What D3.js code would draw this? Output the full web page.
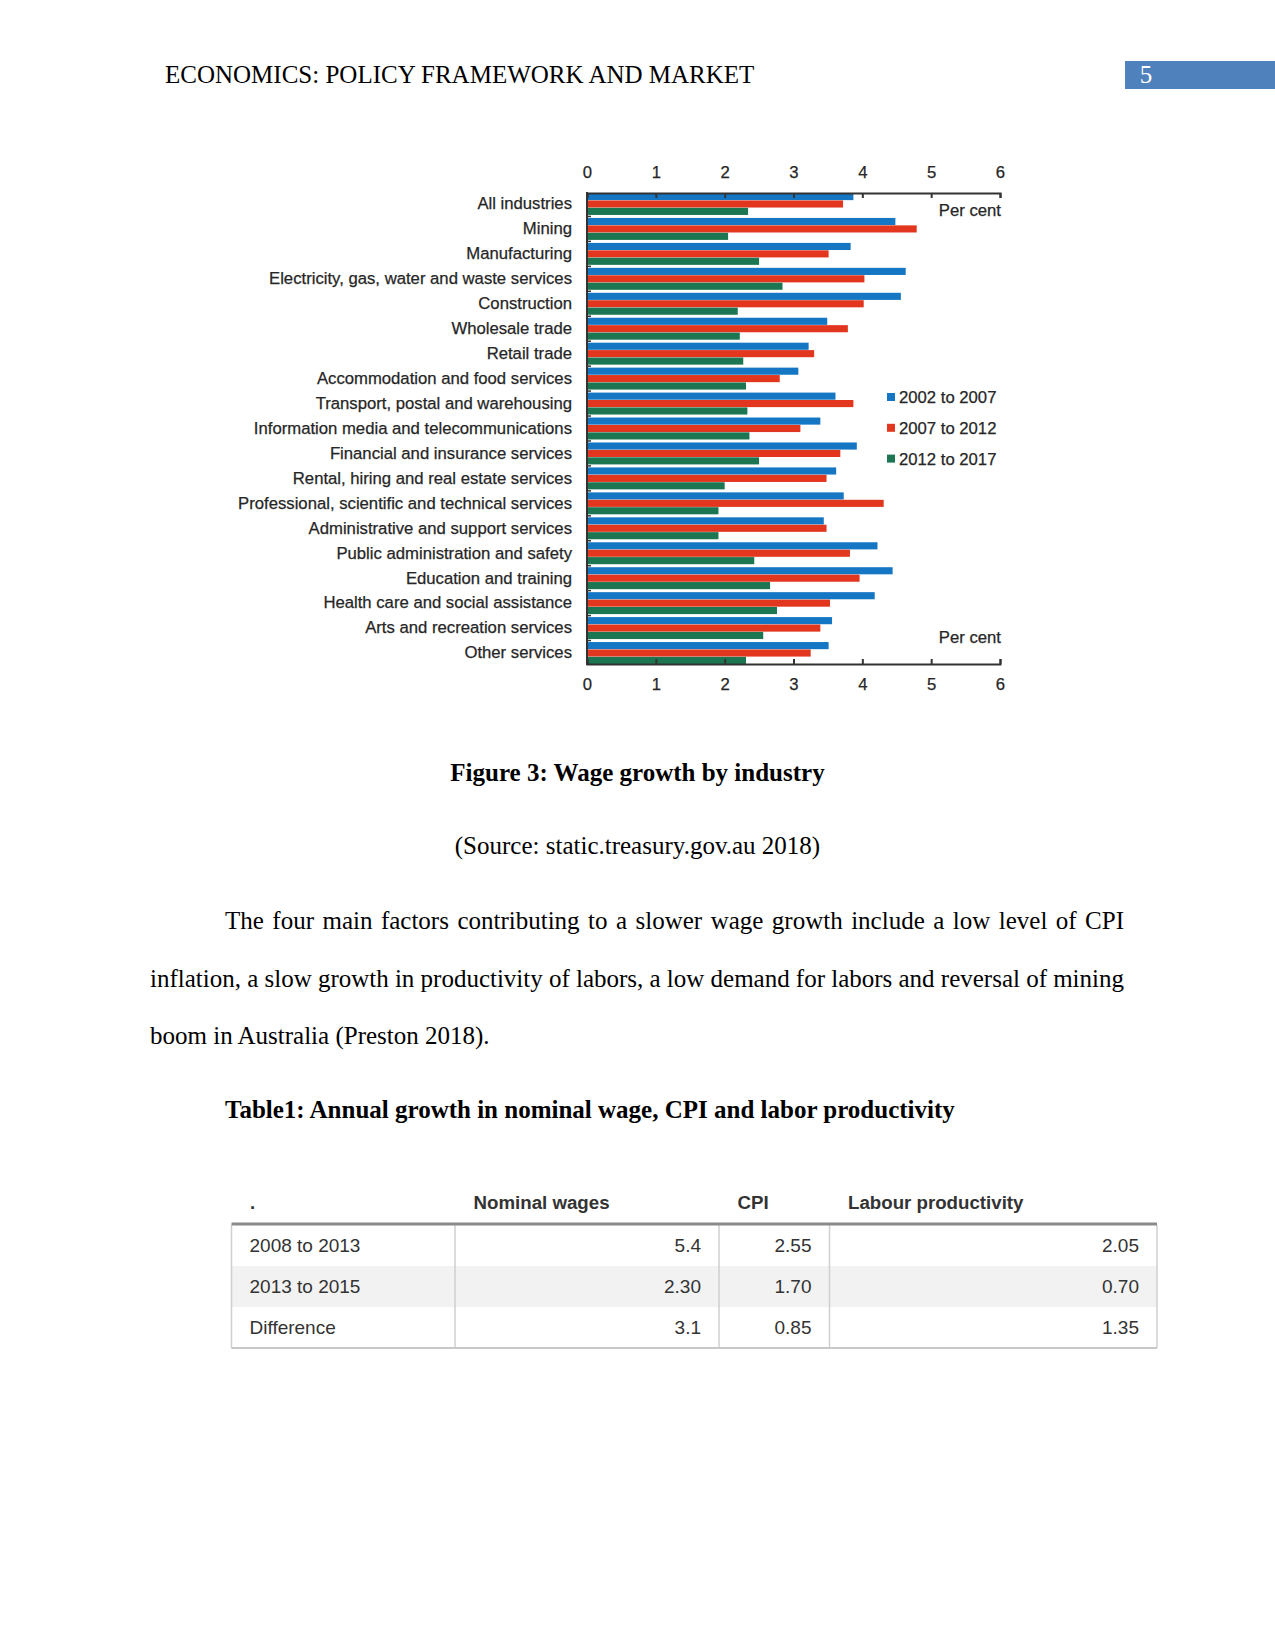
<!DOCTYPE html>
<html><head><meta charset="utf-8">
<script src="https://cdn.jsdelivr.net/npm/d3@7"></script>
<style>
body{margin:0;background:#fff;}
svg{display:block;}
</style></head><body>
<svg id="page" width="1275" height="1651"></svg>
<script>
// ---------- DATA ----------
const categories = [
  "All industries","Mining","Manufacturing","Electricity, gas, water and waste services",
  "Construction","Wholesale trade","Retail trade","Accommodation and food services",
  "Transport, postal and warehousing","Information media and telecommunications",
  "Financial and insurance services","Rental, hiring and real estate services",
  "Professional, scientific and technical services","Administrative and support services",
  "Public administration and safety","Education and training",
  "Health care and social assistance","Arts and recreation services","Other services"
];
const seriesNames = ["2002 to 2007","2007 to 2012","2012 to 2017"];
const growth2002to2007 = [3.87,4.48,3.83,4.63,4.56,3.49,3.22,3.07,3.61,3.39,3.92,3.62,3.73,3.44,4.22,4.44,4.18,3.56,3.51];
const growth2007to2012 = [3.72,4.79,3.51,4.03,4.02,3.79,3.30,2.80,3.87,3.10,3.68,3.48,4.31,3.48,3.82,3.96,3.53,3.39,3.25];
const growth2012to2017 = [2.34,2.05,2.50,2.84,2.19,2.22,2.27,2.31,2.33,2.36,2.50,2.00,1.91,1.91,2.43,2.66,2.76,2.56,2.31];
const xTickValues = [0,1,2,3,4,5,6];
const unitLabel = "Per cent";

const tableHeader = [".","Nominal wages","CPI","Labour productivity"];
const tableRowLabels = ["2008 to 2013","2013 to 2015","Difference"];
const nominalWages = ["5.4","2.30","3.1"];
const cpiValues = ["2.55","1.70","0.85"];
const labourProductivity = ["2.05","0.70","1.35"];

const headerText = "ECONOMICS: POLICY FRAMEWORK AND MARKET";
const pageNumber = "5";
const figureCaption = "Figure 3: Wage growth by industry";
const sourceText = "(Source: static.treasury.gov.au 2018)";
const paragraphLines = [
  "The four main factors contributing to a slower wage growth include a low level of CPI",
  "inflation, a slow growth in productivity of labors, a low demand for labors and reversal of mining",
  "boom in Australia (Preston 2018)."
];
const tableTitle = "Table1: Annual growth in nominal wage, CPI and labor productivity";

// ---------- STYLE ----------
const SERIF = "'Liberation Serif','Times New Roman',serif";
const SANS = "'Liberation Sans',Arial,sans-serif";
const colors = ["#1577c4","#e2361f","#1c7651"];
const ink = "#262626";
const CFS = 16.7; // chart font size

const svg = d3.select("#page");
function chartText(sel){
  return sel.attr("font-family",SANS).attr("font-size",CFS).attr("fill",ink)
    .attr("stroke",ink).attr("stroke-width",0.25);
}

// ---------- PAGE HEADER ----------
svg.append("text").attr("x",165).attr("y",83)
  .attr("font-family",SERIF).attr("font-size",25).attr("fill","#000").text(headerText);
svg.append("rect").attr("x",1125).attr("y",61).attr("width",150).attr("height",28).attr("fill","#4f81bd");
svg.append("text").attr("x",1146).attr("y",83).attr("text-anchor","middle")
  .attr("font-family",SERIF).attr("font-size",25).attr("fill","#fff").text(pageNumber);

// ---------- CHART ----------
const x = d3.scaleLinear().domain([0,6]).range([587,1000]);
const y = d3.scaleBand().domain(categories).range([193,664]).paddingInner(0.12).paddingOuter(0);
const ySub = d3.scaleBand().domain(seriesNames).range([0,y.bandwidth()]).paddingInner(0.04);
const seriesValues = [growth2002to2007,growth2007to2012,growth2012to2017];

const chart = svg.append("g");
const groups = chart.selectAll("g.grp").data(categories).join("g")
  .attr("class","grp").attr("transform",d=>`translate(0,${y(d)})`);
groups.selectAll("rect").data((d,i)=>seriesNames.map((s,j)=>({s,j,v:seriesValues[j][i]}))).join("rect")
  .attr("x",x(0)).attr("y",d=>ySub(d.s)).attr("height",ySub.bandwidth())
  .attr("width",d=>x(d.v)-x(0)).attr("fill",d=>colors[d.j]);

// top axis
const topAxis = chart.append("g").attr("transform","translate(0,193)")
  .call(d3.axisTop(x).tickValues(xTickValues).tickSizeInner(-5).tickSizeOuter(-5).tickPadding(15.5).tickFormat(d3.format("d")));
// bottom axis
const botAxis = chart.append("g").attr("transform","translate(0,664)")
  .call(d3.axisBottom(x).tickValues(xTickValues).tickSizeInner(-5).tickSizeOuter(-5).tickPadding(14).tickFormat(d3.format("d")));
[topAxis,botAxis].forEach(a=>{
  a.selectAll("path,line").attr("stroke","#333").attr("stroke-width",2);
  chartText(a.selectAll("text"));
});

// left axis: category labels
const leftAxis = chart.append("g").attr("transform",`translate(${x(0)},0)`)
  .call(d3.axisLeft(y).tickSize(0).tickPadding(15));
leftAxis.select(".domain").remove();
chartText(leftAxis.selectAll("text"));
// left axis line
chart.append("line").attr("x1",x(0)).attr("x2",x(0)).attr("y1",192).attr("y2",665)
  .attr("stroke","#333").attr("stroke-width",2);
// small ticks between groups
const boundaries = categories.slice(1).map(c=>y(c)-y.step()*y.paddingInner()/2);
chart.selectAll("line.gt").data(boundaries).join("line").attr("class","gt")
  .attr("x1",x(0)).attr("x2",x(0)+4).attr("y1",d=>d).attr("y2",d=>d)
  .attr("stroke","#333").attr("stroke-width",1.5);

// unit labels
chartText(chart.append("text").attr("x",1001).attr("y",216).attr("text-anchor","end")).text(unitLabel);
chartText(chart.append("text").attr("x",1001).attr("y",643).attr("text-anchor","end")).text(unitLabel);

// legend
const legend = chart.selectAll("g.leg").data(seriesNames).join("g").attr("class","leg")
  .attr("transform",(d,i)=>`translate(887,${397+i*30.8})`);
legend.append("rect").attr("x",0).attr("y",-4).attr("width",8).attr("height",8).attr("fill",(d,i)=>colors[i]);
chartText(legend.append("text").attr("x",12).attr("y",0).attr("dy","0.36em")).text(d=>d);

// ---------- CAPTIONS & BODY TEXT ----------
svg.append("text").attr("x",637.5).attr("y",781).attr("text-anchor","middle")
  .attr("font-family",SERIF).attr("font-size",25).attr("font-weight","bold").text(figureCaption);
svg.append("text").attr("x",637.5).attr("y",854).attr("text-anchor","middle")
  .attr("font-family",SERIF).attr("font-size",25).text(sourceText);

const lineStarts = [225,150,150];
const lineBaselines = [929,987,1044];
const rightEdge = 1124;
paragraphLines.forEach((t,i)=>{
  const el = svg.append("text").attr("x",lineStarts[i]).attr("y",lineBaselines[i])
    .attr("font-family",SERIF).attr("font-size",25).attr("fill","#000").text(t);
  if(i<paragraphLines.length-1){
    const natural = el.node().getComputedTextLength();
    const spaces = (t.match(/ /g)||[]).length;
    const extra = (rightEdge-lineStarts[i]-natural)/spaces;
    el.attr("word-spacing",extra);
  }
});

svg.append("text").attr("x",225).attr("y",1118)
  .attr("font-family",SERIF).attr("font-size",25).attr("font-weight","bold").text(tableTitle);

// ---------- TABLE ----------
const colEdges = [231.5,455,719,829.5,1157];
const rowTop = 1225, rowH = 41;
const tbl = svg.append("g");
const tableData = tableRowLabels.map((r,i)=>[r,nominalWages[i],cpiValues[i],labourProductivity[i]]);
// striped background
tbl.selectAll("rect.bg").data(tableData).join("rect").attr("class","bg")
  .attr("x",colEdges[0]).attr("width",colEdges[4]-colEdges[0])
  .attr("y",(d,i)=>rowTop+i*rowH).attr("height",rowH)
  .attr("fill",(d,i)=>i%2===1?"#f2f2f2":"#fff");
// vertical lines
tbl.selectAll("line.v").data(colEdges).join("line").attr("class","v")
  .attr("x1",d=>d).attr("x2",d=>d).attr("y1",rowTop).attr("y2",rowTop+3*rowH)
  .attr("stroke","#cfcfcf").attr("stroke-width",1.5);
// bottom line
tbl.append("line").attr("x1",colEdges[0]).attr("x2",colEdges[4])
  .attr("y1",rowTop+3*rowH).attr("y2",rowTop+3*rowH).attr("stroke","#c8c8c8").attr("stroke-width",2);
// header thick line
tbl.append("line").attr("x1",colEdges[0]).attr("x2",colEdges[4])
  .attr("y1",rowTop-1).attr("y2",rowTop-1).attr("stroke","#8a8a8a").attr("stroke-width",3);
// header text
tbl.selectAll("text.h").data(tableHeader).join("text").attr("class","h")
  .attr("x",(d,i)=>colEdges[i]+18.5).attr("y",1209)
  .attr("font-family",SANS).attr("font-size",18.7).attr("font-weight","bold").attr("fill","#333").text(d=>d);
// body text
tableData.forEach((row,i)=>{
  tbl.selectAll(null).data(row).join("text")
    .attr("x",(d,j)=>j===0?colEdges[0]+18:colEdges[j+1]-18)
    .attr("text-anchor",(d,j)=>j===0?"start":"end")
    .attr("y",rowTop+i*rowH+rowH/2).attr("dy","0.36em")
    .attr("font-family",SANS).attr("font-size",19).attr("fill","#333").text(d=>d);
});
</script>
</body></html>
